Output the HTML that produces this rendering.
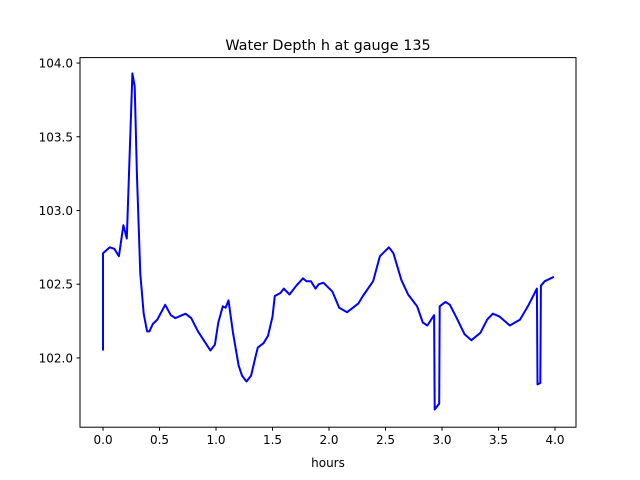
<!DOCTYPE html>
<html><head><meta charset="utf-8"><style>
body{margin:0;background:#fff;}
svg{display:block;font-family:"DejaVu Sans","Liberation Sans",sans-serif;}
</style></head><body>
<svg id="chart" width="640" height="480" viewBox="0 0 640 480">
<rect width="640" height="480" fill="#fff"/>
<text x="328" y="50" font-size="14.4" text-anchor="middle">Water Depth h at gauge 135</text>
<g id="xt"></g>
<g id="yt"></g>
<polyline id="line" fill="none" stroke="#0000ff" stroke-width="2" stroke-linejoin="round"/>
<rect x="80" y="57.6" width="496" height="369.6" fill="none" stroke="#000" stroke-width="1"/>
<text x="328" y="467" font-size="12" text-anchor="middle">hours</text>
</svg>
<script>
const hours=[0,0,0.03,0.06,0.10,0.14,0.18,0.21,0.23,0.26,0.28,0.30,0.33,0.36,0.39,0.41,0.44,0.48,0.55,0.60,0.64,0.73,0.78,0.84,0.90,0.95,0.99,1.02,1.06,1.085,1.11,1.15,1.20,1.23,1.27,1.31,1.35,1.37,1.42,1.46,1.50,1.52,1.57,1.60,1.65,1.71,1.77,1.80,1.84,1.88,1.91,1.95,2.03,2.09,2.16,2.26,2.30,2.39,2.45,2.53,2.57,2.64,2.70,2.78,2.83,2.87,2.93,2.935,2.975,2.98,3.03,3.07,3.13,3.20,3.26,3.34,3.40,3.45,3.51,3.60,3.69,3.76,3.84,3.845,3.87,3.875,3.91,3.99];
const depth=[102.05,102.71,102.73,102.75,102.74,102.69,102.90,102.81,103.25,103.93,103.84,103.25,102.57,102.30,102.18,102.18,102.23,102.26,102.36,102.29,102.27,102.30,102.27,102.18,102.11,102.05,102.09,102.24,102.35,102.34,102.39,102.17,101.95,101.88,101.84,101.88,102.01,102.07,102.10,102.15,102.28,102.42,102.44,102.47,102.43,102.49,102.54,102.52,102.52,102.47,102.50,102.51,102.45,102.34,102.31,102.37,102.42,102.52,102.69,102.75,102.71,102.53,102.43,102.35,102.24,102.22,102.29,101.65,101.69,102.35,102.38,102.36,102.27,102.16,102.12,102.17,102.26,102.30,102.28,102.22,102.26,102.35,102.47,101.82,101.83,102.49,102.52,102.55];
const xTicks=[0,0.5,1,1.5,2,2.5,3,3.5,4];
const yTicks=[102,102.5,103,103.5,104];
const X0=80,X1=576,Y0=427.2,Y1=57.6,xmin=-0.204,xmax=4.186,ymin=101.53,ymax=104.037;
const sx=v=>X0+(v-xmin)/(xmax-xmin)*(X1-X0);
const sy=v=>Y0-(v-ymin)/(ymax-ymin)*(Y0-Y1);
const NS='http://www.w3.org/2000/svg';
document.getElementById('line').setAttribute('points',hours.map((h,i)=>sx(h).toFixed(1)+','+sy(depth[i]).toFixed(1)).join(' '));
const xt=document.getElementById('xt'),yt=document.getElementById('yt');
xTicks.forEach(t=>{
const l=document.createElementNS(NS,'line');


l.setAttribute('x1',sx(t));l.setAttribute('x2',sx(t));l.setAttribute('y1',Y0);l.setAttribute('y2',Y0+3.5);l.setAttribute('stroke','#000');
xt.appendChild(l);
const s=document.createElementNS(NS,'text');


s.setAttribute('x',sx(t));s.setAttribute('y',Y0+17);s.setAttribute('font-size','12');s.setAttribute('text-anchor','middle');
s.textContent=t.toFixed(1);xt.appendChild(s);
});
yTicks.forEach(t=>{
const l=document.createElementNS(NS,'line');


l.setAttribute('x1',X0-3.5);l.setAttribute('x2',X0);l.setAttribute('y1',sy(t));l.setAttribute('y2',sy(t));l.setAttribute('stroke','#000');
yt.appendChild(l);
const s=document.createElementNS(NS,'text');


s.setAttribute('x',X0-7);s.setAttribute('y',sy(t)+4.5);s.setAttribute('font-size','12');s.setAttribute('text-anchor','end');
s.textContent=t.toFixed(1);yt.appendChild(s);
});
</script>
</body></html>
